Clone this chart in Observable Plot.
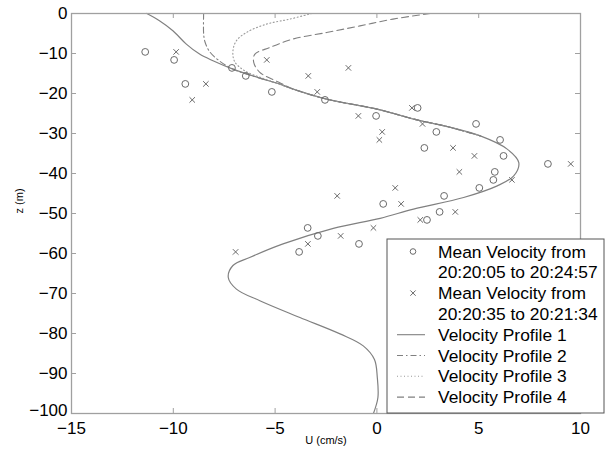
<!DOCTYPE html>
<html>
<head>
<meta charset="utf-8">
<script src="https://cdn.jsdelivr.net/npm/d3@7"></script>
<script src="https://cdn.jsdelivr.net/npm/@observablehq/plot@0.6"></script>
<style>
  body { margin: 0; background: #fff; }
  #chart { width: 608px; height: 455px; }
</style>
</head>
<body>
<div id="chart"></div>
<script>
// ---- data ----
const depths = [-9.6, -11.6, -13.6, -15.6, -17.6, -19.6, -21.6, -23.6, -25.6, -27.6, -29.6, -31.6, -33.6,
                -35.6, -37.6, -39.6, -41.6, -43.6, -45.6, -47.6, -49.6, -51.6, -53.6, -55.6, -57.6, -59.6];
// Mean velocity 20:20:05 to 20:24:57 (circles)
const meanVel1 = [-11.38, -9.96, -7.12, -6.44, -9.41, -5.16, -2.55, 2.0, -0.04, 4.87, 2.92, 6.05, 2.33,
                  6.22, 8.4, 5.79, 5.72, 5.03, 3.30, 0.31, 3.08, 2.46, -3.40, -2.90, -0.88, -3.82];
// Mean velocity 20:20:35 to 20:21:34 (crosses)
const meanVel2 = [-9.86, -5.41, -1.40, -3.37, -8.40, -2.93, -9.07, 1.72, -0.91, 2.24, 0.26, 0.12, 3.74,
                  4.79, 9.52, 4.05, 6.63, 0.90, -1.95, 1.19, 3.85, 2.13, -0.17, -1.78, -3.39, -6.94];

const profile1U = [-11.3, -10.68, -10.02, -9.36, -8.71, -8.05, -7.07, -5.75, -4.77, -4.11, -2.47, 0.0, 1.97, 3.4, 5.08,
                   6.40, 6.97, 6.72, 5.91, 4.26, 1.80, 0.16, -2.14, -4.61, -6.25, -7.07, -7.3, -6.90, -5.75,
                   -3.78, -1.81, -0.67, -0.12, 0.02, 0.05, -0.17];
const profile1Z = [0, -1.8, -4.3, -7.65, -10.15, -11.8, -13.9, -16.15, -17.65, -18.9, -21.4, -23.9, -26.6, -28.2, -30.6,
                   -33.9, -37.3, -40.6, -43.1, -46.0, -48.9, -51.2, -53.7, -57.6, -61.0, -63.0, -66.0, -68.9, -71.8,
                   -76.0, -80.1, -83.1, -86.5, -91.0, -96.0, -100];

const profile2U = [-8.51, -8.51, -8.45, -8.22, -7.75, -7.07, -5.75, -4.77, -4.11, -2.47, 0.0, 1.97, 3.4, 5.08];
const profile2Z = [0, -5.0, -7.0, -9.5, -11.8, -13.9, -16.15, -17.65, -18.9, -21.4, -23.9, -26.6, -28.2, -30.6];

const profile3U = [-3.2, -4.28, -5.42, -6.41, -6.9, -7.07, -6.99, -6.5, -5.6, -4.77, -4.11, -2.47, 0.0, 1.97, 3.4, 5.08];
const profile3Z = [0, -1.4, -2.65, -4.75, -6.8, -9.3, -12.0, -14.3, -16.2, -17.7, -18.9, -21.4, -23.9, -26.6, -28.2, -30.6];

const profile4U = [2.62, 0.79, -0.83, -2.47, -4.13, -5.26, -6.0, -6.05, -5.75, -4.77, -4.11, -2.47, 0.0, 1.97, 3.4, 5.08];
const profile4Z = [0, -1.4, -3.1, -4.75, -6.4, -8.5, -10.2, -12.2, -14.7, -17.3, -18.9, -21.4, -23.9, -26.6, -28.2, -30.6];

const xTicks = [-15, -10, -5, 0, 5, 10];
const yTicks = [0, -10, -20, -30, -40, -50, -60, -70, -80, -90, -100];
const xLabel = "U (cm/s)";
const yLabel = "z (m)";
const legendLabels = [
  ["Mean Velocity from", "20:20:05 to 20:24:57"],
  ["Mean Velocity from", "20:20:35 to 20:21:34"],
  ["Velocity Profile 1"],
  ["Velocity Profile 2"],
  ["Velocity Profile 3"],
  ["Velocity Profile 4"]
];

// ---- build tables ----
const pts1 = depths.map((z, i) => ({u: meanVel1[i], z}));
const pts2 = depths.map((z, i) => ({u: meanVel2[i], z}));
const prof = (U, Z) => U.map((u, i) => ({u, z: Z[i]}));
const p1 = prof(profile1U, profile1Z), p2 = prof(profile2U, profile2Z),
      p3 = prof(profile3U, profile3Z), p4 = prof(profile4U, profile4Z);
const yTicksUpper = yTicks.slice(0, -1), yTickBottom = yTicks.slice(-1);

const W = 608, H = 455, mL = 71, mR = 28, mT = 13, mB = 42;
const plotW = W - mL - mR, plotH = H - mT - mB;
const lineGray = "#808080", markGray = "#6a6a6a", frameGray = "#a0a0a0";
const font = "'Liberation Sans', Arial, Helvetica, sans-serif";
const dashes = {p1: null, p2: "6,3,1.5,3", p3: "1,2.5", p4: "7,4"};

const chart = Plot.plot({
  width: W, height: H,
  marginLeft: mL, marginRight: mR, marginTop: mT, marginBottom: mB,
  style: {fontFamily: font, background: "white", color: "black", overflow: "visible"},
  x: {domain: [-15, 10]},
  y: {domain: [-100, 0]},
  marks: [
    Plot.axisX(xTicks, {anchor: "bottom", tickSize: 0, tickPadding: 8, fontSize: 17, label: null, fill: "black"}),
    Plot.axisY(yTicksUpper, {anchor: "left", tickSize: 0, tickPadding: 4, fontSize: 17, label: null, fill: "black"}),
    Plot.axisY(yTickBottom, {anchor: "left", tickSize: 0, tickPadding: 4, fontSize: 17, label: null, fill: "black", dy: -3}),
    Plot.ruleX(xTicks, {x: d => d, insetTop: plotH - 5, stroke: frameGray}),
    Plot.ruleX(xTicks, {x: d => d, insetBottom: plotH - 5, stroke: frameGray}),
    Plot.ruleY(yTicks, {y: d => d, insetRight: plotW - 5, stroke: frameGray}),
    Plot.ruleY(yTicks, {y: d => d, insetLeft: plotW - 5, stroke: frameGray}),
    Plot.line(p1, {x: "u", y: "z", stroke: lineGray, strokeWidth: 1.2, curve: "catmull-rom"}),
    Plot.line(p2, {x: "u", y: "z", stroke: lineGray, strokeWidth: 1.1, strokeDasharray: dashes.p2, curve: "catmull-rom"}),
    Plot.line(p3, {x: "u", y: "z", stroke: "#999", strokeWidth: 1.1, strokeDasharray: dashes.p3, curve: "catmull-rom"}),
    Plot.line(p4, {x: "u", y: "z", stroke: lineGray, strokeWidth: 1.1, strokeDasharray: dashes.p4, curve: "catmull-rom"}),
    Plot.dot(pts1, {x: "u", y: "z", r: 3.4, stroke: markGray, strokeWidth: 1, symbol: "circle"}),
    Plot.dot(pts2, {x: "u", y: "z", r: 2.6, stroke: markGray, strokeWidth: 1, symbol: "times"}),
    Plot.frame({stroke: frameGray, strokeWidth: 1.3}),
    Plot.text([xLabel], {text: d => d, frameAnchor: "bottom", dy: 30, fontSize: 11, fill: "black"}),
    Plot.text([yLabel], {text: d => d, frameAnchor: "left", dx: -52, rotate: -90, fontSize: 11, fill: "black"})
  ]
});
document.getElementById("chart").appendChild(chart);

// ---- legend (drawn into the plot's svg) ----
const svg = d3.select(chart);
const lg = svg.append("g").attr("font-family", font).attr("font-size", 17.4).attr("text-anchor", "start");
const bx = 387, by = 239, bw = 217, bh = 174;
lg.append("rect").attr("x", bx).attr("y", by).attr("width", bw).attr("height", bh)
  .attr("fill", "white").attr("stroke", "#555").attr("stroke-width", 1);
const rowH = 20.8, row0 = by + 12.5, symX = 411, lx0 = 397, lx1 = 425, tx = 438;
let row = 0;
legendLabels.forEach((lines, i) => {
  const cy = row0 + row * rowH;
  if (i === 0) {
    lg.append("circle").attr("cx", symX + 2).attr("cy", cy).attr("r", 2.8)
      .attr("fill", "none").attr("stroke", markGray);
  } else if (i === 1) {
    const s = d3.symbol(d3.symbolTimes, 20)();
    lg.append("path").attr("d", s).attr("transform", `translate(${symX + 2},${cy})`)
      .attr("fill", "none").attr("stroke", markGray);
  } else {
    const key = ["p1", "p2", "p3", "p4"][i - 2];
    lg.append("line").attr("x1", lx0).attr("x2", lx1).attr("y1", cy).attr("y2", cy)
      .attr("stroke", key === "p3" ? "#999" : lineGray).attr("stroke-width", 1.1)
      .attr("stroke-dasharray", dashes[key]);
  }
  lines.forEach((t, j) => {
    lg.append("text").attr("x", tx).attr("y", row0 + (row + j) * rowH).attr("dy", "0.35em")
      .attr("text-anchor", "start").attr("fill", "black").text(t);
  });
  row += lines.length;
});
</script>
</body>
</html>
